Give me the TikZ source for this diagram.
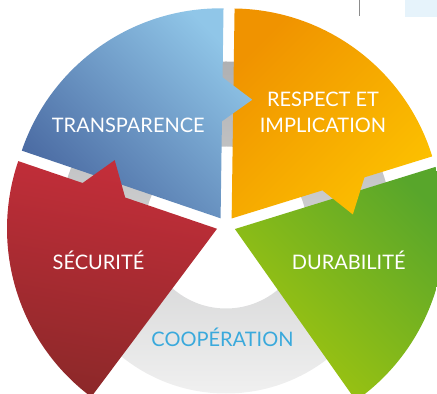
\documentclass[tikz,border=0pt]{standalone}
\usepackage{fontspec}
\setmainfont{Lato}
\usepackage{tikz}
\usetikzlibrary{calc}
\definecolor{bluedark}{HTML}{4A6AA2}
\definecolor{bluelight}{HTML}{90C6E8}
\definecolor{orangedark}{HTML}{F09300}
\definecolor{orangelight}{HTML}{FCC000}
\definecolor{reddark}{HTML}{8C2829}
\definecolor{redlight}{HTML}{C42E3A}
\definecolor{greendark}{HTML}{58A62B}
\definecolor{greenlight}{HTML}{A3C60E}
\definecolor{ringtop}{HTML}{AFB0B2}
\definecolor{ringmid}{HTML}{C9CACC}
\definecolor{ringbot}{HTML}{F0F0F0}
\definecolor{coopblue}{HTML}{3AA9DC}
\definecolor{rule}{HTML}{8C8C8C}
\definecolor{paleblue}{HTML}{E6F3FB}
\tikzset{
  ring/.style={top color=ringtop, middle color=ringmid, bottom color=ringbot, even odd rule},
  bluefill/.style={bottom color=bluedark, top color=bluelight, shading angle=-45},
  orangefill/.style={top color=orangedark, bottom color=orangelight, shading angle=45},
  redfill/.style={top color=redlight, bottom color=reddark, shading angle=-10},
  greenfill/.style={top color=greendark, bottom color=greenlight, shading angle=-45},
  lbl/.style={text=white, font=\fontsize{10}{13}\selectfont, anchor=base, align=center, inner sep=0pt},
  clbl/.style={lbl, text=coopblue}
}

\begin{document}
\begin{tikzpicture}[x=0.5pt, y=0.5pt]
  \useasboundingbox (-226,-168) rectangle (211,226);
  \clip (-226,-168) rectangle (211,226);
  \coordinate (C) at (0,0);
  \coordinate (R) at (0,-1.5);

  % grey ring behind the petals
  \shade[ring] (R) circle (166) (R) circle (81);

  \begin{scope}[rotate=-0.8]
    % durabilite
    \begin{scope}[shift={(342:9.4)}]
      \shade[greenfill] (0,0) -- (18:210) arc[start angle=18, end angle=-54, radius=210] -- cycle;
    \end{scope}
    % respect et implication
    \begin{scope}[shift={(54:9.4)}]
      \shade[orangefill] (0,0) -- (90:210) arc[start angle=90, end angle=18, radius=210]
        -- (18:139) -- ($(18:117)+(-72:32)$) -- (18:95) -- cycle;
    \end{scope}
    % transparence
    \begin{scope}[shift={(126:9.4)}]
      \shade[bluefill] (0,0) -- (162:210) arc[start angle=162, end angle=90, radius=210]
        -- (90:141) -- ($(90:119)+(0:30)$) -- (90:97) -- cycle;
    \end{scope}
    % securite
    \begin{scope}[shift={(198:9.4)}]
      \shade[redfill] (0,0) -- (234:210) arc[start angle=234, end angle=162, radius=210]
        -- (162:142) -- ($(162:119)+(72:32)$) -- (162:97) -- cycle;
    \end{scope}
  \end{scope}

  \node[lbl] (transp) at (-97.7,93.3) {TRANSPARENCE};
  \node[lbl] (respect) at (97,93) {RESPECT ET\\IMPLICATION};
  \node[lbl] (secur) at (-127.5,-43.3) {SÉCURITÉ};
  \node[lbl] (durab) at (122.7,-43.3) {DURABILITÉ};
  \node[clbl] (coop) at (-3.5,-120.7) {COOPÉRATION};

  % bits of the page edge
  \draw[rule, line width=0.5pt] (133.3,226) -- (133.3,210);
  \fill[paleblue] (179,226) rectangle (211,209.3);
\end{tikzpicture}
\end{document}
